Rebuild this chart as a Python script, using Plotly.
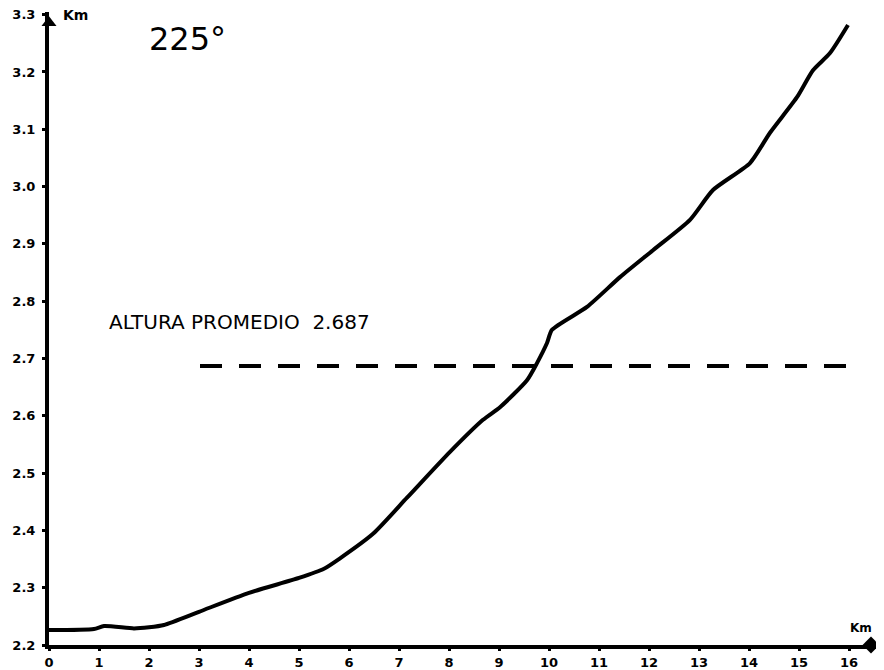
import plotly.graph_objects as go

# Perfil de altura, azimut 225 grados
distancia_km = [0, 0.9, 1.1, 1.7, 2, 2.3, 3, 4, 5, 5.5, 5.8, 6.48, 7.16,
                8.02, 8.68, 9.02, 9.56, 9.76, 9.96, 10.06, 10.76, 11.42,
                12.08, 12.82, 13.28, 14.02, 14.42, 14.96, 15.28, 15.62, 15.98]
altura_km = [2.226, 2.228, 2.233, 2.229, 2.231, 2.235, 2.258, 2.291, 2.317,
             2.333, 2.350, 2.394, 2.457, 2.537, 2.593, 2.615, 2.662, 2.692,
             2.727, 2.750, 2.790, 2.842, 2.889, 2.942, 2.994, 3.041, 3.094,
             3.156, 3.203, 3.233, 3.282]

altura_promedio = 2.687
promedio_x = [3.02, 16.0]

x_ticks = list(range(0, 17))
y_ticks = [round(2.2 + 0.1 * i, 1) for i in range(12)]

fig = go.Figure()

# linea de altura promedio
fig.add_trace(go.Scatter(
    x=promedio_x, y=[altura_promedio] * 2, mode="lines",
    line=dict(color="black", width=4, dash="22px,17px"),
    showlegend=False, hoverinfo="skip"))

# perfil
fig.add_trace(go.Scatter(
    x=distancia_km, y=altura_km, mode="lines",
    line=dict(color="black", width=4, shape="spline", smoothing=0.6),
    showlegend=False))

# puntas de flecha de los ejes
fig.add_trace(go.Scatter(
    x=[0], y=[3.286], mode="markers", cliponaxis=False,
    marker=dict(symbol="triangle-up", size=13, color="black"),
    showlegend=False, hoverinfo="skip"))
fig.add_trace(go.Scatter(
    x=[16.44], y=[2.2], mode="markers", cliponaxis=False,
    marker=dict(symbol="diamond", size=13, color="black"),
    showlegend=False, hoverinfo="skip"))

tick_font = dict(family="DejaVu Sans", size=13, color="black", weight="bold")

fig.update_xaxes(
    range=[0, 16.5], tickvals=x_ticks, ticktext=[str(v) for v in x_ticks],
    showline=True, linecolor="black", linewidth=4, showgrid=False,
    zeroline=False, ticks="outside", ticklen=2, tickwidth=3,
    tickcolor="black", tickfont=tick_font,
    ticklabelstandoff=0, automargin=False, ticklabeloverflow="allow")
fig.update_yaxes(
    range=[2.2, 3.3047], tickvals=y_ticks,
    ticktext=[f"{v:.1f}" for v in y_ticks],
    showline=True, linecolor="black", linewidth=4, showgrid=False,
    zeroline=False, ticks="outside", ticklen=3, tickwidth=3,
    tickcolor="black", tickfont=tick_font, ticklabelstandoff=4,
    automargin=False, ticklabeloverflow="allow")

fig.add_annotation(x=0.24, y=3.3, xref="x", yref="y", text="Km",
                   showarrow=False, xanchor="left", yanchor="middle",
                   font=dict(family="DejaVu Sans", size=14, color="black",
                             weight="bold"))
fig.add_annotation(x=1.0, y=2.214, xref="paper", yref="y", text="Km",
                   showarrow=False, xanchor="right", yanchor="bottom",
                   font=dict(family="DejaVu Sans", size=12, color="black",
                             weight="bold"))
fig.add_annotation(x=1.95, y=3.258, xref="x", yref="y", text="225°",
                   showarrow=False, xanchor="left", yanchor="middle",
                   font=dict(family="DejaVu Sans", size=32, color="black"))
fig.add_annotation(x=1.16, y=2.764, xref="x", yref="y",
                   text="ALTURA PROMEDIO  2.687",
                   showarrow=False, xanchor="left", yanchor="middle",
                   font=dict(family="DejaVu Sans", size=20, color="black"))

# la pagina deja 8 px de margen: la figura se ajusta a lo visible
fig.update_layout(
    width=876, height=662,
    margin=dict(l=41, r=10, t=4, b=25),
    plot_bgcolor="white", paper_bgcolor="white",
)

fig.write_html("out.html")
